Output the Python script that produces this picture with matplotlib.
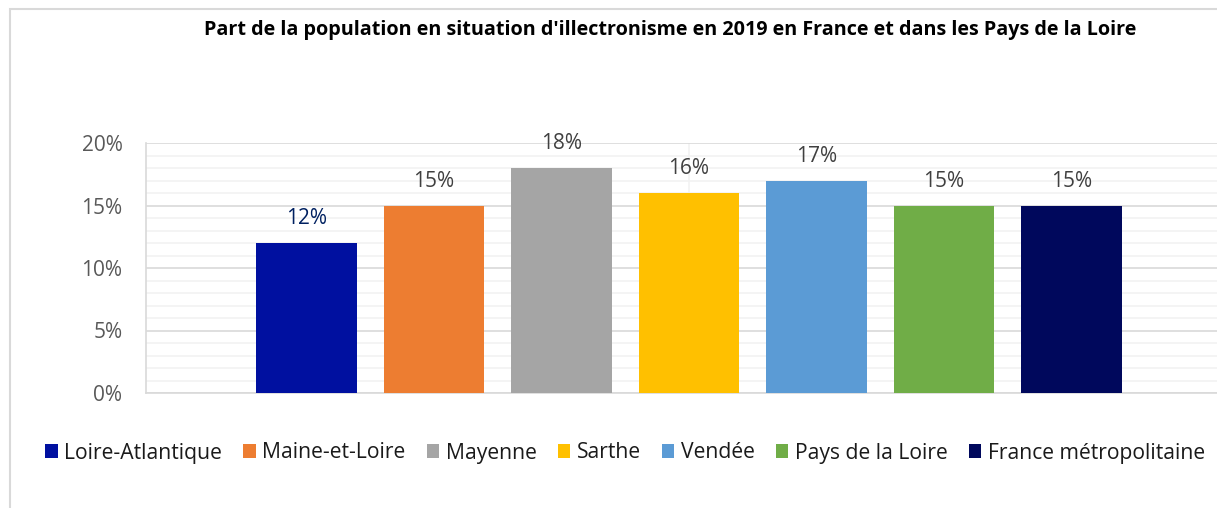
import matplotlib.pyplot as plt
from matplotlib.patches import Rectangle
from matplotlib.ticker import MultipleLocator, PercentFormatter

# values (single category, one series per area)
zones = ['Loire-Atlantique', 'Maine-et-Loire', 'Mayenne', 'Sarthe',
         'Vendée', 'Pays de la Loire', 'France métropolitaine']
parts = [12, 15, 18, 16, 17, 15, 15]
couleurs = ['#0010A0', '#ED7D31', '#A5A5A5', '#FFC000',
            '#5B9BD5', '#70AD47', '#00085C']
label_colors = ['#002060', '#404040', '#404040', '#404040',
                '#404040', '#404040', '#404040']

plt.rcParams['font.family'] = ['Open Sans', 'DejaVu Sans']

fig = plt.figure(figsize=(12.17, 5.08), dpi=100)
# plot area runs past the right edge, as in the cropped original
ax = fig.add_axes([146 / 1217, 115 / 508, 1086 / 1217, 250 / 508])

pos = list(range(len(zones)))
for i in pos:
    ax.bar(i, parts[i], width=0.792, color=couleurs[i], label=zones[i], zorder=3)
    ax.text(i, parts[i] + 1.1, f'{parts[i]}%', ha='center', va='bottom',
            fontsize=15, color=label_colors[i], zorder=4)

ax.set_xlim(-1.259, 7.259)
ax.set_ylim(0, 20)
ax.yaxis.set_major_locator(MultipleLocator(5))
ax.yaxis.set_minor_locator(MultipleLocator(1))
ax.yaxis.set_major_formatter(PercentFormatter(decimals=0))
ax.grid(which='major', axis='y', color='#D9D9D9', lw=1.2, zorder=1)
ax.grid(which='minor', axis='y', color='#F2F2F2', lw=1.2, zorder=0)
ax.axvline(3, color='#F2F2F2', lw=1.2, zorder=0)
ax.set_xticks([])
ax.tick_params(axis='y', which='both', length=0, pad=17, labelsize=15, labelcolor='#595959')
for s in ['top', 'right']:
    ax.spines[s].set_visible(False)
for s in ['left', 'bottom']:
    ax.spines[s].set_color('#D9D9D9')
    ax.spines[s].set_linewidth(1.2)

fig.text(670 / 1217, 1 - 30 / 508, "Part de la population en situation d'illectronisme en 2019 en France et dans les Pays de la Loire",
         ha='center', va='center', fontsize=14.2, fontweight='bold', color='black')

fig.legend(loc='center', bbox_to_anchor=(625 / 1217, 1 - 453 / 508), ncol=7,
           frameon=False, fontsize=15.2, handlelength=0.6, handleheight=0.6,
           handletextpad=0.3, columnspacing=1.0, labelcolor='#1a1a1a')

fig.patches.append(Rectangle((10 / 1217, -0.1), 2, 1.1 - 9 / 508, transform=fig.transFigure,
                             fill=False, edgecolor='#D9D9D9', lw=1.5))

fig.savefig('out.png', dpi=100)
